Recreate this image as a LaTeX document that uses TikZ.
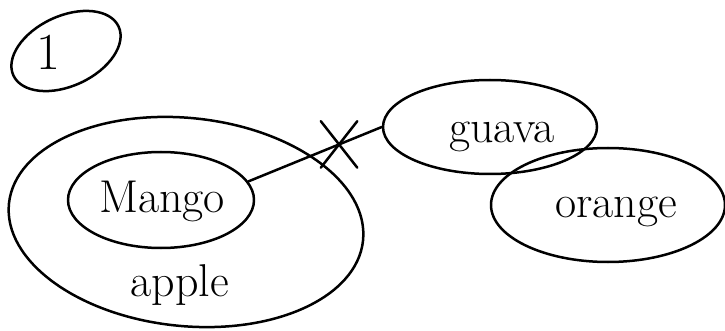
\documentclass[tikz,border=0pt]{standalone}
\usetikzlibrary{shapes.geometric,shapes.misc}
\begin{document}
\begin{tikzpicture}[x=1pt,y=-1pt,
  stroke/.style={line width=2.5pt,line cap=round,line join=round},
  oval/.style={stroke,draw,ellipse,inner sep=0pt},
  word/.style={anchor=base,inner sep=0pt,font=\fontsize{46}{52}\selectfont},
  xmark/.style={stroke,draw,cross out,inner sep=0pt,minimum width=34pt,minimum height=44pt}]
\useasboundingbox (0,0) rectangle (725,331);
% ovals
\node[oval,minimum width=116pt,minimum height=70pt,rotate=25] (one) at (66,51) {};
\node[oval,minimum width=356pt,minimum height=208pt,rotate=-6] (apple) at (186,222) {};
\node[oval,minimum width=186pt,minimum height=96pt] (mango) at (161,200) {};
\node[oval,minimum width=214pt,minimum height=94pt] (guava) at (490,127) {};
\node[oval,minimum width=234pt,minimum height=114pt] (orange) at (608,205) {};
% labels
\node[word,font=\fontsize{52}{58}\selectfont] (lone) at (48,70) {1};
\node[word] (lmango) at (162,212) {Mango};
\node[word] (lapple) at (180,296) {apple};
\node[word] (lguava) at (502,143) {guava};
\node[word] (lorange) at (616,217) {orange};
% connector with cross
\draw[stroke] (mango.12) -- (guava.west) node[xmark,pos=0.68] (cross) {};
\end{tikzpicture}
\end{document}
